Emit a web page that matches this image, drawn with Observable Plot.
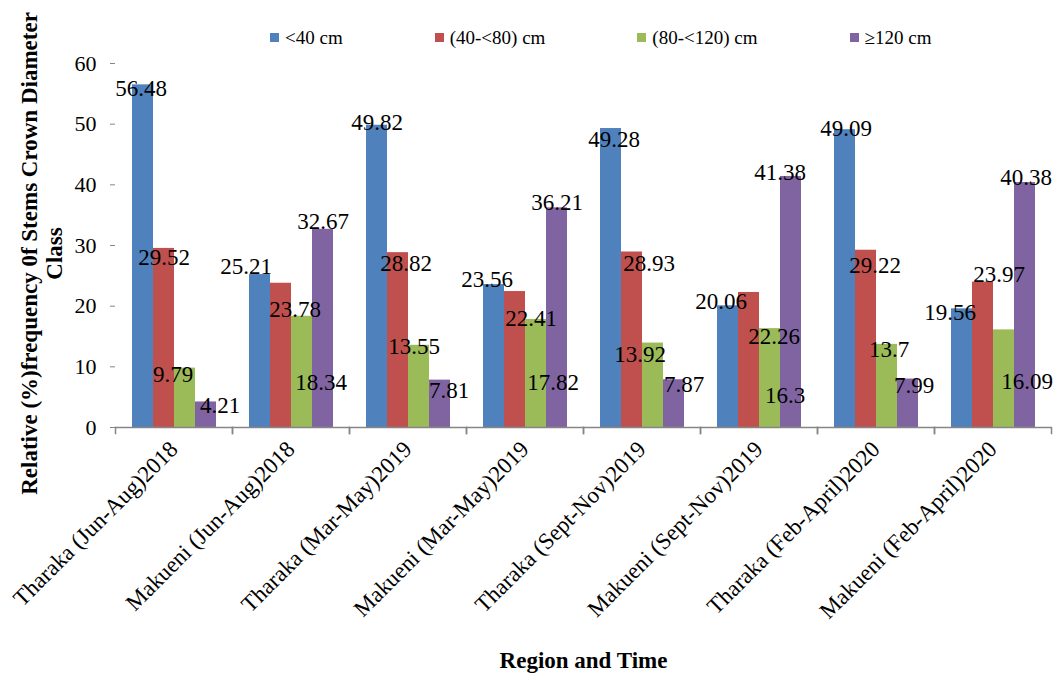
<!DOCTYPE html>
<html>
<head>
<meta charset="utf-8">
<script src="https://cdn.jsdelivr.net/npm/d3@7"></script>
<script src="https://cdn.jsdelivr.net/npm/@observablehq/plot@0.6"></script>
<style>
  html, body { margin: 0; padding: 0; background: #fff; }
  #chart { position: relative; width: 1059px; height: 682px; font-family: "Liberation Serif", "Times New Roman", serif; }
  #legend {
    position: absolute; top: 0; left: 0; height: 50px; box-sizing: border-box;
    padding: 25px 0 0 270px; display: flex; gap: 92px; align-items: center;
    font-size: 19px; line-height: 20px; color: #000;
  }
  #legend .item { display: flex; align-items: center; gap: 6px; white-space: nowrap; }
  #legend .sw { width: 9px; height: 9px; display: inline-block; }
  #chart svg { display: block; }
</style>
</head>
<body>
<div id="chart"><div id="legend"></div></div>
<script>
// Sampling periods (region and season) along the x axis
const groups = [
  "Tharaka (Jun-Aug)2018", "Makueni (Jun-Aug)2018",
  "Tharaka (Mar-May)2019", "Makueni (Mar-May)2019",
  "Tharaka (Sept-Nov)2019", "Makueni (Sept-Nov)2019",
  "Tharaka (Feb-April)2020", "Makueni (Feb-April)2020"
];

// Crown diameter classes
const series = ["<40 cm", "(40-<80) cm", "(80-<120) cm", "≥120 cm"];

// Relative frequency (%) of stems per crown diameter class
const lt40   = [56.48, 25.21, 49.82, 23.56, 49.28, 20.06, 49.09, 19.56];
const from40 = [29.52, 23.78, 28.82, 22.41, 28.93, 22.26, 29.22, 23.97];
const from80 = [9.79, 18.34, 13.55, 17.82, 13.92, 16.3, 13.7, 16.09];
const ge120  = [4.21, 32.67, 7.81, 36.21, 7.87, 41.38, 7.99, 40.38];

const yTicks = [0, 10, 20, 30, 40, 50, 60];
const yTitle = "Relative (%)frequency 0f Stems Crown Diameter\nClass";
const xTitle = "Region and Time";

const colors = ["#4F81BD", "#C0504D", "#9BBB59", "#8064A2"];
const axisGray = "#868686";

// Pixel nudges [dx, dy] of each value label from the top centre of its bar,
// per class, in period order (keeps neighbouring labels apart)
const labelNudges = [
  [[-2, 4], [-14, -8], [0, -3], [-7, -5], [3, 11], [-7, -4], [1, -1], [-12, 4]],
  [[0, 9], [14, 26], [8, 11], [16, 27], [17, 12], [25, 44], [9, 15], [16, -7]],
  [[-12, 7], [19, 66], [-5, 1], [17, 63], [-13, 12], [15, 67], [2, 5], [23, 52]],
  [[14, 4], [0, -8], [9, 11], [0, -5], [10, 5], [-11, -4], [6, 7], [1, -5]]
];

// Long-format table for the grouped bars
const valuesBySeries = [lt40, from40, from80, ge120];
const rows = [];
groups.forEach((g, i) => {
  series.forEach((s, k) => {
    rows.push({group: g, series: s, value: valuesBySeries[k][i], gi: i, si: k});
  });
});

const height = 682, marginTop = 63, marginBottom = 255;
const innerHeight = height - marginTop - marginBottom;

// One text mark per value label so each can carry its own nudge
const labelMarks = rows.map(d => {
  const [dx, dy] = labelNudges[d.si][d.gi];
  return Plot.text([d], {
    fx: "group", x: "series", y: "value", text: r => String(r.value),
    dx, dy, fontSize: 23, fill: "#000"
  });
});

const plot = Plot.plot({
  width: 1059,
  height,
  marginTop,
  marginRight: 8,
  marginBottom,
  marginLeft: 115,
  style: {fontFamily: "'Liberation Serif', 'Times New Roman', serif", fontSize: "22px", color: "#000", background: "transparent"},
  fx: {domain: groups, padding: 0, label: null},
  x: {domain: series, paddingInner: 0, paddingOuter: 0.75, axis: null},
  y: {domain: [0, 60], label: null},
  color: {domain: series, range: colors},
  marks: [
    Plot.barY(rows, {fx: "group", x: "series", y: "value", fill: "series"}),
    Plot.ruleY([0], {stroke: axisGray, strokeWidth: 1.5}),
    // category separators below the x axis
    Plot.frame({anchor: "left", stroke: axisGray, strokeWidth: 1.5, insetTop: innerHeight, insetBottom: -6}),
    Plot.frame({anchor: "right", stroke: axisGray, strokeWidth: 1.5, insetTop: innerHeight, insetBottom: -6}),
    Plot.axisY({ticks: yTicks, tickSize: 5, tickPadding: 14, stroke: axisGray, line: true, label: null, fontSize: 22}),
    Plot.axisFx({anchor: "bottom", tickSize: 0, tickPadding: 18, tickRotate: -45, label: null, fontSize: 23}),
    ...labelMarks,
    Plot.text([yTitle], {facet: "super", frameAnchor: "left", textAnchor: "middle", rotate: -90, dx: -74, dy: 8,
      fontWeight: "bold", fontSize: 23, lineHeight: 1.1}),
    Plot.text([xTitle], {facet: "super", frameAnchor: "bottom", dy: 240, fontWeight: "bold", fontSize: 23})
  ]
});

document.getElementById("chart").appendChild(plot);

// Legend built from the plot's color scale
const color = plot.scale("color");
const legend = d3.select("#legend");
series.forEach((s, k) => {
  const item = legend.append("div").attr("class", "item");
  item.append("span").attr("class", "sw").style("background", color.range[k]);
  item.append("span").text(s);
});
</script>
</body>
</html>
